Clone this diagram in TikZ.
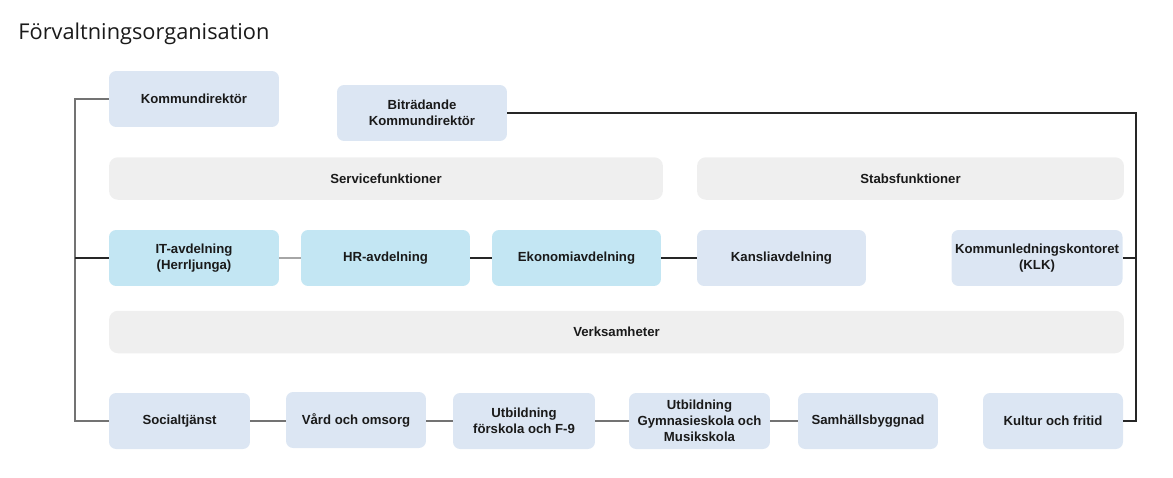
\documentclass[tikz,border=0pt]{standalone}
\usepackage{fontspec}
\setmainfont{Liberation Sans}
\newfontfamily\titlefont{Open Sans}
\definecolor{unitBlue}{HTML}{DCE6F3}
\definecolor{unitCyan}{HTML}{C3E6F3}
\definecolor{groupGray}{HTML}{EFEFEF}
\definecolor{inkDark}{HTML}{1A1A1A}

\begin{document}
\begin{tikzpicture}[
    x=0.02cm, y=-0.02cm,
    font=\fontsize{7.5pt}{9pt}\selectfont\bfseries,
    unitBox/.style={
        rectangle,
        fill=unitBlue,
        text=inkDark,
        rounded corners=4pt,
        align=center,
        inner sep=2pt,
        minimum width=3.4cm,
        minimum height=1.12cm
    },
    cyanBox/.style={
        unitBox,
        fill=unitCyan
    },
    groupBar/.style={
        rectangle,
        fill=groupGray,
        text=inkDark,
        rounded corners=5pt,
        align=center,
        minimum height=0.85cm
    },
    darkLine/.style={
        draw=black!85,
        line width=0.6pt
    },
    grayLine/.style={
        draw=black!55,
        line width=0.6pt
    },
    paleLine/.style={
        draw=black!35,
        line width=1pt
    }
]
\useasboundingbox (0,0) rectangle (1173,477);

% ==================== TITLE ====================
\node[anchor=west, inner sep=0pt, font=\titlefont\fontsize{12.4pt}{15pt}\selectfont, text=inkDark] (title) at (18,34) {Förvaltningsorganisation};

% ==================== LEADERSHIP ====================
\node[unitBox] (kommDir) at (194,99) {Kommundirektör};
\node[unitBox] (bitrDir) at (422,113) {Biträdande\\Kommundirektör};

% ==================== GROUP BARS ====================
\node[groupBar, minimum width=11.08cm] (service) at (386,178.5) {Servicefunktioner};
\node[groupBar, minimum width=8.54cm] (stabs) at (910.5,178.5) {Stabsfunktioner};
\node[groupBar, minimum width=20.3cm] (verks) at (616.5,332) {Verksamheter};

% ==================== SERVICE / STAB UNITS ====================
\node[cyanBox] (itAvd) at (194,258) {IT-avdelning\\(Herrljunga)};
\node[cyanBox, minimum width=3.38cm] (hrAvd) at (385.5,258) {HR-avdelning};
\node[cyanBox, minimum width=3.38cm] (ekoAvd) at (576.5,258) {Ekonomiavdelning};
\node[unitBox, minimum width=3.38cm] (kansli) at (781.5,258) {Kansliavdelning};
\node[unitBox] (klk) at (1037,258) {Kommunledningskontoret\\(KLK)};

% ==================== VERKSAMHETER ====================
\node[unitBox, minimum width=2.82cm] (social) at (179.5,421) {Socialtjänst};
\node[unitBox, minimum width=2.8cm] (vard) at (356,420) {Vård och omsorg};
\node[unitBox, minimum width=2.84cm] (utbF9) at (524,421) {Utbildning\\förskola och F-9};
\node[unitBox, minimum width=2.82cm] (utbGy) at (699.5,421) {Utbildning\\Gymnasieskola och\\Musikskola};
\node[unitBox, minimum width=2.8cm] (samh) at (868,421) {Samhällsbyggnad};
\node[unitBox, minimum width=2.8cm] (kultur) at (1053,421) {Kultur och fritid};

% ==================== CONNECTORS ====================
\coordinate (busL) at (75,258);
\coordinate (busR) at (1136,258);

\draw[grayLine] (kommDir.west) -| (busL) |- (social.west);
\draw[darkLine] (itAvd.west) -- (busL);
\draw[darkLine] (bitrDir.east) -| (busR) |- (kultur.east);
\draw[darkLine] (klk.east) -- (busR);

\draw[paleLine] (itAvd) -- (hrAvd);
\draw[darkLine] (hrAvd) -- (ekoAvd);
\draw[darkLine] (ekoAvd) -- (kansli);

\draw[grayLine] (social) -- (vard.west |- social);
\draw[grayLine] (vard.east |- utbF9) -- (utbF9);
\draw[grayLine] (utbF9) -- (utbGy);
\draw[grayLine] (utbGy) -- (samh);

\end{tikzpicture}
\end{document}
